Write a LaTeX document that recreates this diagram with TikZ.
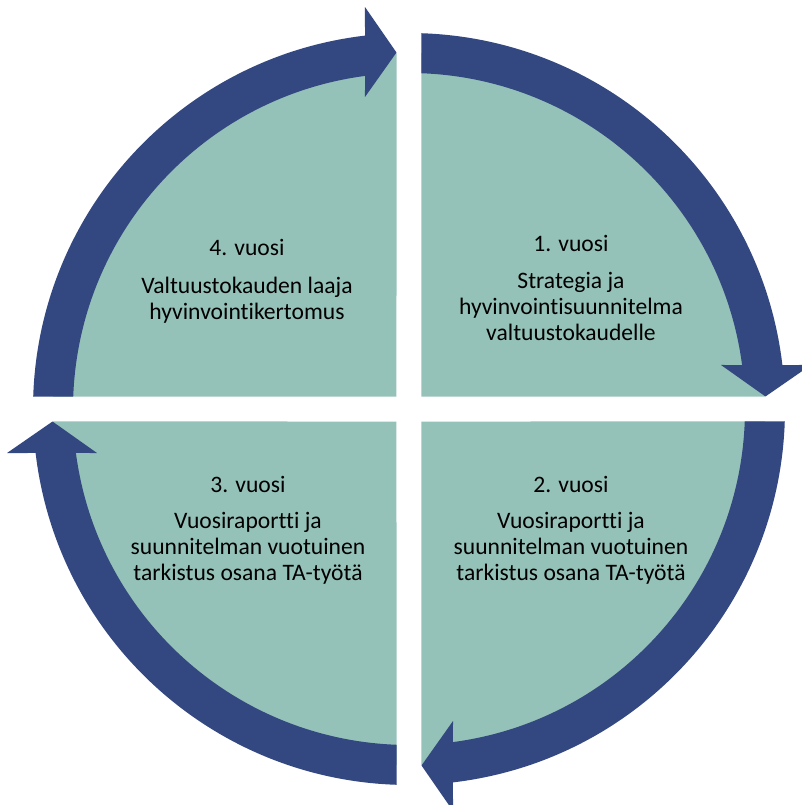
\documentclass[tikz,border=0pt]{standalone}
\usepackage{fontspec}
\setmainfont{Carlito}[Ligatures=NoCommon]
\definecolor{cycleblue}{RGB}{51,71,128}
\definecolor{cycleteal}{RGB}{149,194,184}

\begin{document}
\begin{tikzpicture}[x=0.5pt, y=0.5pt]
    \tikzstyle{every node}=[align=center, inner sep=0pt, anchor=base, font=\fontsize{11.8}{13}\selectfont]
    \useasboundingbox (-409,-396) rectangle (393,409);
    \clip (-409,-396) rectangle (393,409);
    % four quarters and the arrows round them
    \foreach \r in {0,-90,-180,-270} {
        \fill[cycleteal] ({45+\r}:17.68) -- ({87.99+\r}:356) arc[start angle={87.99+\r}, end angle={2.01+\r}, radius=356] -- cycle;
        \fill[cycleblue] ({88.1+\r}:376) arc[start angle={88.1+\r}, end angle={6.72+\r}, radius=376] -- ({6.25+\r}:404.4) -- ({2.01+\r}:356.7) -- ({8.03+\r}:315.1) -- ({7.52+\r}:336) arc[start angle={7.52+\r}, end angle={87.87+\r}, radius=336] -- cycle;
    }
    \draw (162,69) node (year1) {1. vuosi\\[5.5pt]Strategia ja\\hyvinvointisuunnitelma\\valtuustokaudelle};
    \draw (162,-171) node (year2) {2. vuosi\\[5pt]Vuosiraportti ja\\suunnitelman vuotuinen\\tarkistus osana TA-työtä};
    \draw (-161,-171) node (year3) {3. vuosi\\[5pt]Vuosiraportti ja\\suunnitelman vuotuinen\\tarkistus osana TA-työtä};
    \draw (-162,90) node (year4) {4. vuosi\\[6pt]Valtuustokauden laaja\\hyvinvointikertomus};
\end{tikzpicture}
\end{document}
